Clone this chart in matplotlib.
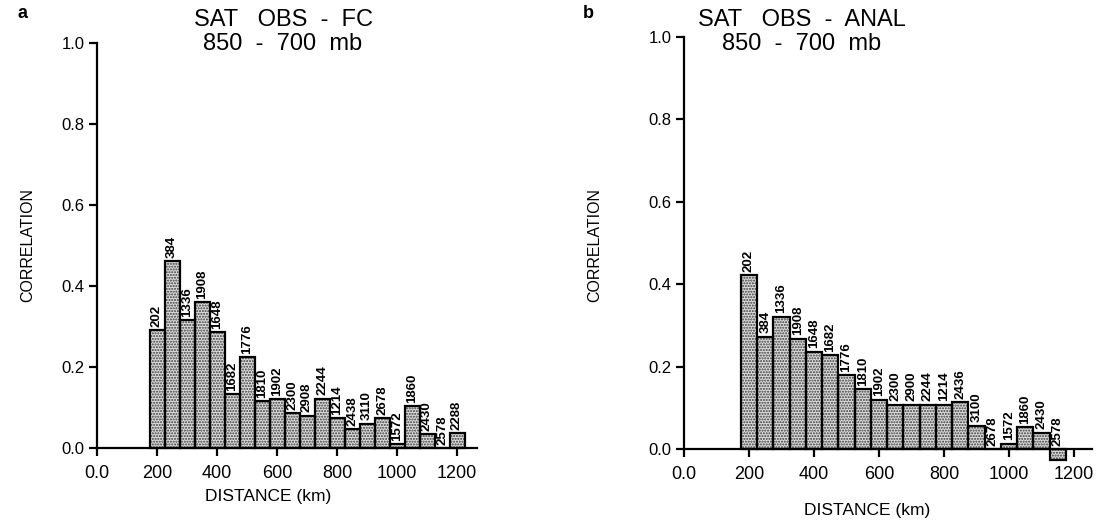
import matplotlib
matplotlib.use("Agg")
import matplotlib.pyplot as plt

plt.rcParams['font.family'] = ['Liberation Sans', 'DejaVu Sans']
plt.rcParams['hatch.linewidth'] = 1.0

# ---- data ----
dist_a = [200, 250, 300, 350, 400, 450, 500, 550, 600, 650, 700,
          750, 800, 850, 900, 950, 1000, 1050, 1100, 1150, 1200]
corr_a = [0.291, 0.462, 0.316, 0.361, 0.287, 0.133, 0.225, 0.116, 0.120, 0.086, 0.080,
          0.122, 0.073, 0.046, 0.060, 0.073, 0.009, 0.103, 0.034, 0.0, 0.036]
count_a = ['202', '384', '1336', '1908', '1648', '1682', '1776', '1810', '1902', '2300', '2908',
           '2244', '1214', '2438', '3110', '2678', '1572', '1860', '2430', '2578', '2288']

dist_b = [200, 250, 300, 350, 400, 450, 500, 550, 600, 650, 700,
          750, 800, 850, 900, 950, 1000, 1050, 1100, 1150]
corr_b = [0.422, 0.273, 0.321, 0.268, 0.236, 0.228, 0.180, 0.145, 0.120, 0.108, 0.108,
          0.108, 0.108, 0.114, 0.057, 0.0, 0.013, 0.053, 0.040, -0.027]
count_b = ['202', '384', '1336', '1908', '1648', '1682', '1776', '1810', '1902', '2300', '2900',
           '2244', '1214', '2436', '3100', '2678', '1572', '1860', '2430', '2578']

xticks = [0, 200, 400, 600, 800, 1000, 1200]
xticklabels = ['0.0', '200', '400', '600', '800', '1000', '1200']
yticks = [0.0, 0.2, 0.4, 0.6, 0.8, 1.0]
yticklabels = ['0.0', '0.2', '0.4', '0.6', '0.8', '1.0']
bin_width = 50

W, H = 1108, 528
fig = plt.figure(figsize=(W / 100, H / 100), dpi=100)


def make_panel(rect, xmax, dist, corr, counts, title1, title2, letter, letter_xy,
               title_cx, ylabel_x, xlabel_y):
    ax = fig.add_axes(rect)
    ax.bar(dist, corr, width=bin_width, facecolor='#dcdcdc', edgecolor='#3a3a3a',
           hatch='......', linewidth=0, zorder=2)
    ax.bar(dist, corr, width=bin_width, fill=False, edgecolor='black',
           linewidth=1.6, zorder=3)
    for x, c, lab in zip(dist, corr, counts):
        ax.text(x, max(c, 0) + 0.008, lab, rotation=90, ha='center', va='bottom',
                fontsize=9.5, fontweight='bold', zorder=4)
    ax.set_xlim(0, xmax)
    ax.set_ylim(0, 1.0)
    ax.set_xticks(xticks)
    ax.set_xticklabels(xticklabels, fontsize=13)
    ax.set_yticks(yticks)
    ax.set_yticklabels(yticklabels, fontsize=12)
    for s in ['top', 'right']:
        ax.spines[s].set_visible(False)
    for s in ['left', 'bottom']:
        ax.spines[s].set_linewidth(1.6)
    ax.tick_params(axis='both', direction='out', length=6, width=1.6, pad=3)
    ax.tick_params(axis='x', pad=6)
    for p in ax.patches:
        p.set_clip_on(False)
    fig.text(letter_xy[0] / W, 1 - letter_xy[1] / H, letter, fontsize=13,
             fontweight='bold', ha='center', va='center')
    fig.text(title_cx / W, 1 - 20 / H, title1, fontsize=17, ha='center', va='center')
    fig.text(title_cx / W, 1 - 44 / H, title2, fontsize=17, ha='center', va='center')
    fig.text(ylabel_x / W, 1 - 245 / H, 'CORRELATION', rotation=90, fontsize=11.5,
             ha='center', va='center')
    fig.text((rect[0] + rect[2] * 0.45), 1 - xlabel_y / H, 'DISTANCE (km)',
             fontsize=12.5, ha='center', va='center')
    return ax


make_panel([97 / W, 1 - 448 / H, 380 / W, 405 / H], 380 / 0.3,
           dist_a, corr_a, count_a, 'SAT   OBS  -  FC', '850  -  700  mb', 'a', (22, 14),
           283, 28, 496)
make_panel([684 / W, 1 - 449 / H, 408 / W, 412 / H], 408 / 0.325,
           dist_b, corr_b, count_b, 'SAT   OBS  -  ANAL', '850  -  700  mb', 'b', (588, 14),
           802, 595, 511)

fig.savefig('out.png', dpi=100)
